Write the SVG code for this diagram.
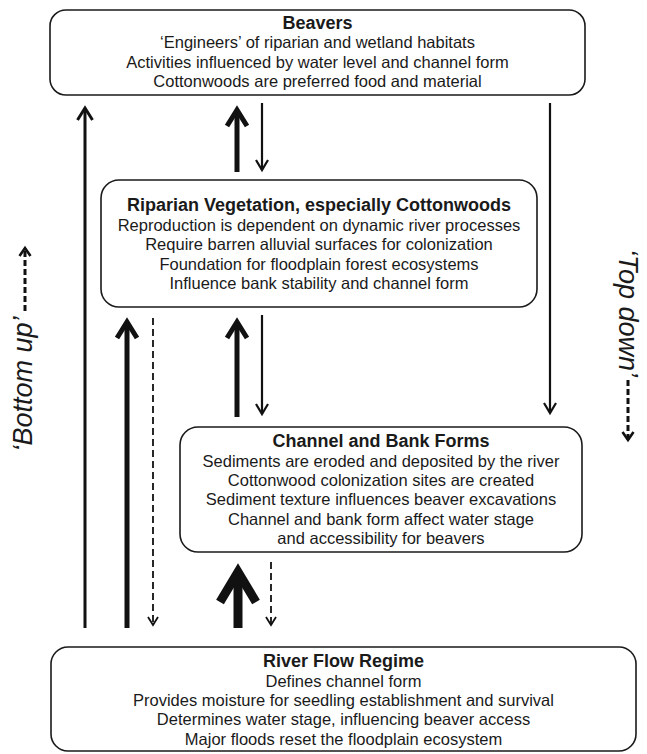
<svg xmlns="http://www.w3.org/2000/svg" width="647" height="754" viewBox="0 0 647 754">
<style>
.box{fill:#fff;stroke:#1a1a1a;stroke-width:1.6}
.t{font-family:"Liberation Sans",Arial,sans-serif;font-size:16.5px;fill:#1a1a1a;text-anchor:middle}
.h{font-weight:bold;font-size:18px}
.side{font-family:"Liberation Sans",Arial,sans-serif;font-size:27px;font-style:italic;fill:#1a1a1a;text-anchor:middle}
.c{fill:none;stroke:#111}
.w2{stroke-width:2.2}
.w3{stroke-width:3}
.w5{stroke-width:5}
.w9{stroke-width:9}
.dash{stroke-width:1.8;stroke-dasharray:7 4}
.sdash{stroke-width:3;stroke-dasharray:6 3}
</style>
<defs>
<marker id="ah-s" markerUnits="userSpaceOnUse" orient="auto" overflow="visible" markerWidth="1" markerHeight="1"><path d="M-10,-6 L0,0 L-10,6" fill="none" stroke="#111" stroke-width="2.2"/></marker>
<marker id="ah-m" markerUnits="userSpaceOnUse" orient="auto" overflow="visible" markerWidth="1" markerHeight="1"><path d="M-12,-7.5 L0,0 L-12,7.5" fill="none" stroke="#111" stroke-width="3"/></marker>
<marker id="ah-t" markerUnits="userSpaceOnUse" orient="auto" overflow="visible" markerWidth="1" markerHeight="1"><path d="M-16,-10 L0,0 L-16,10" fill="none" stroke="#111" stroke-width="5"/></marker>
<marker id="ah-b" markerUnits="userSpaceOnUse" orient="auto" overflow="visible" markerWidth="1" markerHeight="1"><path d="M-30,-18 L0,0 L-30,18" fill="none" stroke="#111" stroke-width="9"/></marker>
<marker id="ah-d" markerUnits="userSpaceOnUse" orient="auto" overflow="visible" markerWidth="1" markerHeight="1"><path d="M-8,-5 L0,0 L-8,5" fill="none" stroke="#111" stroke-width="1.8"/></marker>
<marker id="ah-sd" markerUnits="userSpaceOnUse" orient="auto" overflow="visible" markerWidth="1" markerHeight="1"><path d="M-8,-5.5 L0,0 L-8,5.5" fill="none" stroke="#111" stroke-width="2.6"/></marker>
</defs>

<g id="connectors">
<line class="c w3" x1="85" y1="628" x2="85" y2="108" marker-end="url(#ah-m)"/>
<line class="c w5" x1="127" y1="628" x2="127" y2="322" marker-end="url(#ah-t)"/>
<line class="c dash" x1="153" y1="318" x2="153" y2="625" marker-end="url(#ah-d)"/>
<line class="c w5" x1="237" y1="417" x2="237" y2="322" marker-end="url(#ah-t)"/>
<line class="c w2" x1="262" y1="315" x2="262" y2="414" marker-end="url(#ah-s)"/>
<line class="c w5" x1="237" y1="172" x2="237" y2="110" marker-end="url(#ah-t)"/>
<line class="c w2" x1="262" y1="103" x2="262" y2="170" marker-end="url(#ah-s)"/>
<line class="c w2" x1="550" y1="103" x2="550" y2="413" marker-end="url(#ah-s)"/>
<line class="c w9" x1="238" y1="628" x2="238" y2="572" marker-end="url(#ah-b)"/>
<line class="c dash" x1="271" y1="562" x2="271" y2="625" marker-end="url(#ah-d)"/>
<line class="c sdash" x1="25" y1="311" x2="25" y2="248" marker-end="url(#ah-sd)"/>
<line class="c sdash" x1="628" y1="380" x2="628" y2="440" marker-end="url(#ah-sd)"/>
</g>

<g id="beavers">
<rect class="box" x="50" y="10" width="535" height="85" rx="16"/>
<text class="t h" x="317.5" y="28.5">Beavers</text>
<text class="t" x="317.5" y="48">‘Engineers’ of riparian and wetland habitats</text>
<text class="t" x="317.5" y="67.5">Activities influenced by water level and channel form</text>
<text class="t" x="317.5" y="87">Cottonwoods are preferred food and material</text>
</g>

<g id="riparian">
<rect class="box" x="101" y="180" width="436" height="127" rx="18"/>
<text class="t h" x="319" y="211">Riparian Vegetation, especially Cottonwoods</text>
<text class="t" x="319" y="230.5">Reproduction is dependent on dynamic river processes</text>
<text class="t" x="319" y="250">Require barren alluvial surfaces for colonization</text>
<text class="t" x="319" y="269.5">Foundation for floodplain forest ecosystems</text>
<text class="t" x="319" y="289">Influence bank stability and channel form</text>
</g>

<g id="channel">
<rect class="box" x="180" y="427" width="402" height="125" rx="18"/>
<text class="t h" x="381" y="447">Channel and Bank Forms</text>
<text class="t" x="381" y="466.5">Sediments are eroded and deposited by the river</text>
<text class="t" x="381" y="486">Cottonwood colonization sites are created</text>
<text class="t" x="381" y="505">Sediment texture influences beaver excavations</text>
<text class="t" x="381" y="524.5">Channel and bank form affect water stage</text>
<text class="t" x="381" y="544">and accessibility for beavers</text>
</g>

<g id="river">
<rect class="box" x="51" y="647" width="585" height="104" rx="17"/>
<text class="t h" x="343.5" y="667">River Flow Regime</text>
<text class="t" x="343.5" y="686.5">Defines channel form</text>
<text class="t" x="343.5" y="706">Provides moisture for seedling establishment and survival</text>
<text class="t" x="343.5" y="725">Determines water stage, influencing beaver access</text>
<text class="t" x="343.5" y="744.5">Major floods reset the floodplain ecosystem</text>
</g>

<g id="bottom-up">
<text class="side" transform="translate(32,384) rotate(-90)">‘Bottom up’</text>
</g>
<g id="top-down">
<text class="side" transform="translate(619,313) rotate(90)">‘Top down’</text>
</g>
</svg>
